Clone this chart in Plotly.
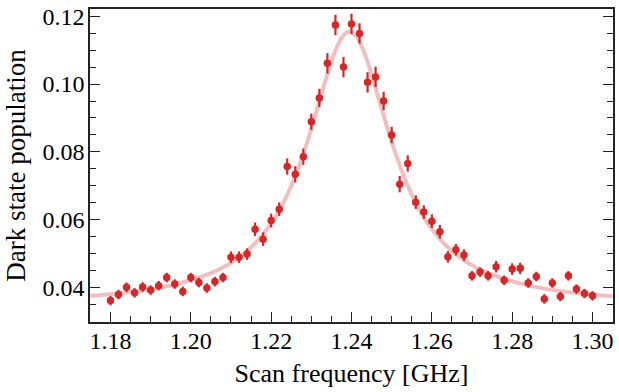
import plotly.graph_objects as go

# scan frequency [GHz]
freq = [1.180, 1.182, 1.184, 1.186, 1.188, 1.190, 1.192, 1.194, 1.196, 1.198,
        1.200, 1.202, 1.204, 1.206, 1.208, 1.210, 1.212, 1.214, 1.216, 1.218,
        1.220, 1.222, 1.224, 1.226, 1.228, 1.230, 1.232, 1.234, 1.236, 1.238,
        1.240, 1.242, 1.244, 1.246, 1.248, 1.250, 1.252, 1.254, 1.256, 1.258,
        1.260, 1.262, 1.264, 1.266, 1.268, 1.270, 1.272, 1.274, 1.276, 1.278,
        1.280, 1.282, 1.284, 1.286, 1.288, 1.290, 1.292, 1.294, 1.296, 1.298,
        1.300]

# measured dark state population
population = [0.0362, 0.0380, 0.0401, 0.0385, 0.0402, 0.0393, 0.0406, 0.0430, 0.0411, 0.0389,
              0.0430, 0.0415, 0.0399, 0.0418, 0.0430, 0.0490, 0.0490, 0.0499, 0.0572, 0.0543,
              0.0598, 0.0631, 0.0757, 0.0734, 0.0786, 0.0889, 0.0959, 0.1061, 0.1174, 0.1050,
              0.1177, 0.1149, 0.1005, 0.1021, 0.0950, 0.0850, 0.0705, 0.0766, 0.0652, 0.0623,
              0.0596, 0.0565, 0.0491, 0.0512, 0.0496, 0.0435, 0.0446, 0.0435, 0.0462, 0.0422,
              0.0455, 0.0457, 0.0414, 0.0433, 0.0367, 0.0414, 0.0374, 0.0435, 0.0396, 0.0383,
              0.0376]

# error bars (half length)
pop_err = [0.0014, 0.0014, 0.0014, 0.0014, 0.0014, 0.0014, 0.0014, 0.0014, 0.0014, 0.0014,
           0.0014, 0.0014, 0.0014, 0.0014, 0.0014, 0.0017, 0.0017, 0.0017, 0.0020, 0.0020,
           0.0020, 0.0020, 0.0024, 0.0024, 0.0024, 0.0024, 0.0027, 0.0030, 0.0030, 0.0030,
           0.0030, 0.0030, 0.0030, 0.0030, 0.0027, 0.0024, 0.0024, 0.0024, 0.0020, 0.0020,
           0.0020, 0.0020, 0.0017, 0.0017, 0.0017, 0.0014, 0.0014, 0.0014, 0.0017, 0.0014,
           0.0017, 0.0017, 0.0014, 0.0014, 0.0014, 0.0014, 0.0014, 0.0014, 0.0014, 0.0014,
           0.0014]

# fitted line shape
fit_freq = [1.175, 1.185, 1.195, 1.205, 1.210, 1.215, 1.220, 1.2225, 1.225, 1.2285,
            1.232, 1.234, 1.236, 1.238, 1.2395, 1.241, 1.243, 1.245, 1.247, 1.2505,
            1.254, 1.2565, 1.259, 1.264, 1.269, 1.274, 1.284, 1.294, 1.305]
fit_pop = [0.0376, 0.0387, 0.0407, 0.0443, 0.0473, 0.0519, 0.0589, 0.0638, 0.0700, 0.0811,
           0.0948, 0.1029, 0.1099, 0.1144, 0.1155, 0.1144, 0.1099, 0.1029, 0.0948, 0.0811,
           0.0700, 0.0638, 0.0589, 0.0519, 0.0473, 0.0443, 0.0407, 0.0387, 0.0375]

x_ticks = [1.18, 1.20, 1.22, 1.24, 1.26, 1.28, 1.30]
x_labels = ["1.18", "1.20", "1.22", "1.24", "1.26", "1.28", "1.30"]
y_ticks = [0.04, 0.06, 0.08, 0.10, 0.12]
y_labels = ["0.04", "0.06", "0.08", "0.10", "0.12"]

red = "#d62728"
font = "'Liberation Serif', 'DejaVu Serif', serif"

fig = go.Figure()

# fit curve in the back
fig.add_trace(go.Scatter(
    x=fit_freq, y=fit_pop,
    mode="lines",
    line=dict(color="rgba(214,39,40,0.3)", width=4, shape="spline", smoothing=0.8),
    hoverinfo="skip",
))

# data with error bars
fig.add_trace(go.Scatter(
    x=freq, y=population,
    mode="markers",
    marker=dict(color=red, size=7.5),
    error_y=dict(type="data", array=pop_err, color=red, thickness=2.2, width=0),
))

axis_common = dict(
    showline=True, linecolor="#222", linewidth=1.5,
    ticks="inside", tickcolor="#222", tickwidth=1.3, ticklen=10,
    showgrid=False, zeroline=False,
    tickfont=dict(family=font, size=24, color="black"),
)

fig.update_xaxes(
    range=[1.1749, 1.3051],
    tickvals=x_ticks, ticktext=x_labels,
    mirror=True,
    minor=dict(dtick=0.005, tick0=1.18, ticks="inside", ticklen=6, tickwidth=1.1, tickcolor="#222"),
    ticklabelstandoff=-4,
    title=dict(text="Scan frequency [GHz]", font=dict(family=font, size=26, color="black"), standoff=11),
    **axis_common,
)
fig.update_yaxes(
    range=[0.0299, 0.1221],
    tickvals=y_ticks, ticktext=y_labels,
    mirror="ticks",
    minor=dict(dtick=0.005, tick0=0.04, ticks="inside", ticklen=6, tickwidth=1.1, tickcolor="#222"),
    ticklabelstandoff=-1,
    title=dict(text="Dark state population", font=dict(family=font, size=27, color="black"), standoff=9),
    **axis_common,
)

fig.update_layout(
    width=619, height=392,
    margin=dict(l=90, r=4, t=4, b=70),
    font=dict(family=font, color="black"),
    plot_bgcolor="white", paper_bgcolor="white",
    showlegend=False,
)

# drop the default page margin so the figure sits at the window corner
fig.write_html("out.html", config={"displayModeBar": False},
               post_script="document.body.style.margin='0';")
